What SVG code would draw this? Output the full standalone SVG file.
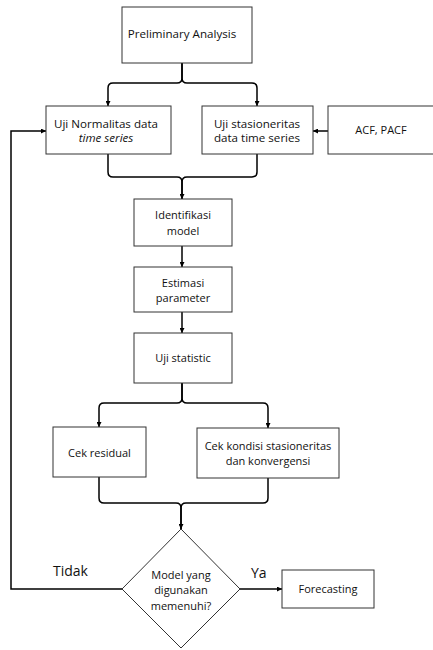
<svg xmlns="http://www.w3.org/2000/svg" width="433" height="650" viewBox="0 0 433 650">
<style>
.box{fill:#fff;stroke:#333;stroke-width:1}
.t{font-family:"Open Sans","Noto Sans",sans-serif;font-size:11px;fill:#111;text-anchor:middle}
.big{font-size:11.6px}
.sm{font-size:10px}
.lbl{font-family:"Open Sans","Noto Sans",sans-serif;font-size:14px;fill:#111}
.c{fill:none;stroke:#000;stroke-width:1.5}
</style>
<defs>
<marker id="ah" viewBox="0 0 10 10" refX="10" refY="5" markerWidth="5" markerHeight="5" orient="auto" markerUnits="userSpaceOnUse">
<path d="M0,0 L10,5 L0,10 z" fill="#000"/>
</marker>
</defs>
<rect width="433" height="650" fill="#fff"/>
<g id="connectors">
<path class="c" d="M182,63 V78 Q182,83 177,83 H113 Q108,83 108,88 V106" marker-end="url(#ah)"/>
<path class="c" d="M182,63 V78 Q182,83 187,83 H252 Q257,83 257,88 V106" marker-end="url(#ah)"/>
<path class="c" d="M328,131 H313" marker-end="url(#ah)"/>
<path class="c" d="M108,154 V172 Q108,177 113,177 H177 Q182,177 182,182 V199" marker-end="url(#ah)"/>
<path class="c" d="M257,154 V172 Q257,177 252,177 H187 Q182,177 182,182 V199"/>
<path class="c" d="M182,246 V267" marker-end="url(#ah)"/>
<path class="c" d="M182,312 V333" marker-end="url(#ah)"/>
<path class="c" d="M182,383 V398 Q182,403 177,403 H104 Q99,403 99,408 V427" marker-end="url(#ah)"/>
<path class="c" d="M182,383 V398 Q182,403 187,403 H263 Q268,403 268,408 V428" marker-end="url(#ah)"/>
<path class="c" d="M99,477 V498 Q99,503 104,503 H176 Q181,503 181,508 V529" marker-end="url(#ah)"/>
<path class="c" d="M268,478 V498 Q268,503 263,503 H186 Q181,503 181,508 V529"/>
<path class="c" d="M122,589 H11 V131 H46" marker-end="url(#ah)"/>
<path class="c" d="M240,589 H282" marker-end="url(#ah)"/>
</g>
<g id="preliminary">
<rect class="box" x="122" y="7" width="130" height="56"/>
<text class="t big" x="182" y="38">Preliminary Analysis</text>
</g>
<g id="normalitas">
<rect class="box" x="46" y="106" width="125" height="48"/>
<text class="t big" x="106" y="128">Uji Normalitas data</text>
<text class="t big" x="106" y="142" font-style="italic">time series</text>
</g>
<g id="stasioneritas">
<rect class="box" x="202" y="106" width="111" height="48"/>
<text class="t big" x="257" y="128">Uji stasioneritas</text>
<text class="t big" x="257" y="142">data time series</text>
</g>
<g id="acf">
<rect class="box" x="328" y="106" width="110" height="48"/>
<text class="t" x="381" y="134">ACF, PACF</text>
</g>
<g id="identifikasi">
<rect class="box" x="134" y="199" width="98" height="47"/>
<text class="t" x="183" y="219">Identifikasi</text>
<text class="t" x="183" y="235">model</text>
</g>
<g id="estimasi">
<rect class="box" x="134" y="267" width="98" height="45"/>
<text class="t" x="183" y="287">Estimasi</text>
<text class="t" x="183" y="302">parameter</text>
</g>
<g id="ujistatistic">
<rect class="box" x="134" y="333" width="98" height="50"/>
<text class="t" x="183" y="362">Uji statistic</text>
</g>
<g id="residual">
<rect class="box" x="53" y="427" width="93" height="50"/>
<text class="t" x="99.5" y="457">Cek residual</text>
</g>
<g id="kondisi">
<rect class="box" x="197" y="428" width="142" height="50"/>
<text class="t" x="268" y="450">Cek kondisi stasioneritas</text>
<text class="t" x="268" y="465">dan konvergensi</text>
</g>
<g id="decision">
<polygon class="box" points="181,529 240,589 181,648 122,589"/>
<text class="t" x="181" y="579">Model yang</text>
<text class="t" x="181" y="594">digunakan</text>
<text class="t" x="181" y="610">memenuhi?</text>
</g>
<g id="forecasting">
<rect class="box" x="282" y="570" width="92" height="38"/>
<text class="t" x="328" y="593">Forecasting</text>
</g>
<text class="lbl" x="53" y="576">Tidak</text>
<text class="lbl" x="251" y="578">Ya</text>
</svg>
